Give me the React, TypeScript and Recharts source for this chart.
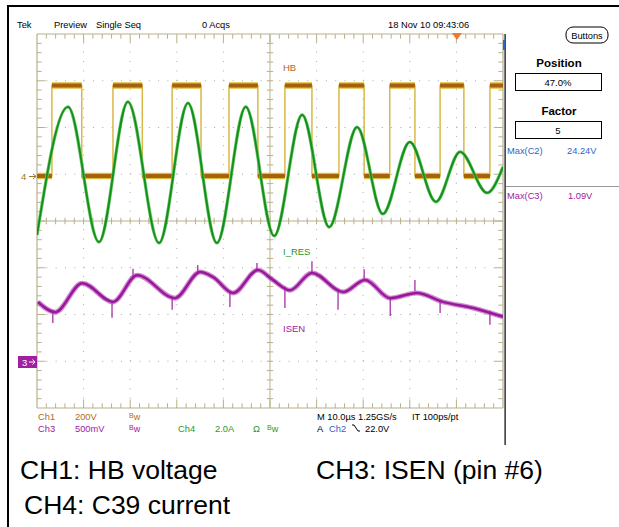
import React from 'react';
import { LineChart, Line, XAxis, YAxis, ReferenceLine, ReferenceDot } from 'recharts';

// Screen: 10 horizontal divisions (10 µs/div), 8 vertical divisions, centre = 0.
// CH1 (HB) square wave: switching edge times (div) and the two levels (div)
const hbEdgeTimes = [0.32, 0.96, 1.63, 2.26, 2.9, 3.52, 4.12, 4.74, 5.32, 5.9, 6.48, 7.02, 7.57, 8.11, 8.65, 9.16, 9.72];
const hbLow = 0.96;
const hbHigh = 2.9;

// CH4 (I_RES) resonant current: extrema
const iresTimes = [0, 0.665, 1.33, 1.95, 2.62, 3.24, 3.86, 4.48, 5.09, 5.69, 6.27, 6.87, 7.42, 8.0, 8.56, 9.08, 9.66, 10];
const iresValues = [-0.3, 2.44, -0.45, 2.55, -0.47, 2.52, -0.47, 2.44, -0.32, 2.27, -0.13, 2.01, 0.15, 1.69, 0.41, 1.48, 0.6, 1.16];

// CH3 (ISEN)
const isenTimes = [0.02, 0.39, 0.97, 1.63, 2.15, 2.96, 3.5, 3.78, 4.21, 4.74, 5.06, 5.43, 5.9, 6.57, 7.04, 7.58, 8.15, 8.71, 9.36, 10];
const isenValues = [-1.73, -1.95, -1.33, -1.73, -1.16, -1.65, -1.09, -1.2, -1.54, -1.05, -1.26, -1.48, -1.11, -1.52, -1.26, -1.65, -1.54, -1.73, -1.86, -2.05];
// CH3 switching spikes
const isenSpikeTimes = [0.34, 1.61, 2.06, 2.9, 3.45, 4.14, 4.72, 5.32, 5.9, 6.46, 7.02, 7.58, 8.11, 8.65, 9.72];
const isenSpikeBase = [-1.9, -1.72, -1.2, -1.6, -1.12, -1.5, -1.08, -1.4, -1.12, -1.5, -1.25, -1.62, -1.5, -1.72, -1.92];
const isenSpikeTip = [-2.18, -2.07, -1.02, -1.9, -0.94, -1.84, -0.9, -1.86, -0.86, -1.9, -1.03, -2.03, -1.26, -1.97, -2.22];

const triggerTime = 9.01;

// ---- derived tables ----
type P = { t: number; v: number | null };
const hbEdgesData: P[] = (() => {
  const out: P[] = [{ t: 0, v: hbLow }];
  hbEdgeTimes.forEach((e, i) => {
    const before = i % 2 === 0 ? hbLow : hbHigh;
    const after = i % 2 === 0 ? hbHigh : hbLow;
    out.push({ t: e, v: before }, { t: e, v: after });
  });
  out.push({ t: 10, v: hbEdgeTimes.length % 2 === 0 ? hbLow : hbHigh });
  return out;
})();
const hbLevelData: P[] = (() => {
  const bounds = [0, ...hbEdgeTimes, 10];
  const out: P[] = [];
  for (let i = 0; i < bounds.length - 1; i++) {
    const lvl = i % 2 === 0 ? hbLow : hbHigh;
    out.push({ t: bounds[i], v: lvl }, { t: bounds[i + 1], v: lvl }, { t: bounds[i + 1], v: null });
  }
  return out;
})();
const iresData: P[] = iresTimes.map((t, i) => ({ t, v: iresValues[i] }));
const isenData: P[] = isenTimes.map((t, i) => ({ t, v: isenValues[i] }));
const spikeData: P[] = [];
isenSpikeTimes.forEach((t, i) => {
  spikeData.push({ t, v: isenSpikeBase[i] }, { t, v: isenSpikeTip[i] }, { t, v: null });
});

const GRID = '#b8b08c';
const DOT = '#a8a8a8';
const C1 = '#b06a22';
const C2 = '#2a64cc';
const C3 = '#a020a0';
const C4 = '#1f9a1f';

const minorX: number[] = [];
for (let i = 1; i < 50; i++) minorX.push(i / 5);
const minorY: number[] = [];
for (let i = -19; i < 20; i++) if (i !== 0) minorY.push(i / 5);
const minorYAll: number[] = [];
for (let i = -19; i < 20; i++) minorYAll.push(i / 5);
const divX = [1, 2, 3, 4, 6, 7, 8, 9];
const divY = [-3, -2, -1, 1, 2, 3];

const font = '"Liberation Sans", Arial, sans-serif';

const Bw = ({ x, y, color }: { x: number; y: number; color: string }) => (
  <text x={x} y={y} fill={color} fontFamily={font}>
    <tspan fontSize={7} dy={-2}>B</tspan>
    <tspan fontSize={9} dy={2}>w</tspan>
  </text>
);

export default function App() {
  const xt = (v: number) => 0.1 * (v === Math.round(v) ? 1.8 : 1);
  return (
    <div style={{ position: 'absolute', left: 0, top: 0, width: 619, height: 527, background: '#fff', overflow: 'hidden' }}>
      <div style={{ position: 'absolute', left: 0, top: 0 }}>
        <LineChart width={619} height={527} margin={{ top: 34, left: 37, right: 116, bottom: 119 }}>
          <XAxis dataKey="t" type="number" domain={[0, 10]} hide allowDataOverflow />
          <YAxis type="number" domain={[-4, 4]} hide allowDataOverflow />
          {divX.map((d) => (
            <ReferenceLine key={'gx' + d} x={d} stroke={DOT} strokeWidth={1} strokeDasharray="1 8.35" ifOverflow="visible" />
          ))}
          {divY.map((d) => (
            <ReferenceLine key={'gy' + d} y={d} stroke={DOT} strokeWidth={1} strokeDasharray="1 8.32" ifOverflow="visible" />
          ))}
          <ReferenceLine x={0} stroke={GRID} strokeWidth={1.2} ifOverflow="visible" />
          <ReferenceLine x={10} stroke={GRID} strokeWidth={1.2} ifOverflow="visible" />
          <ReferenceLine y={4} stroke={GRID} strokeWidth={1.2} ifOverflow="visible" />
          <ReferenceLine y={-4} stroke={GRID} strokeWidth={1.2} ifOverflow="visible" />
          <ReferenceLine x={5} stroke={GRID} strokeWidth={1} ifOverflow="visible" />
          <ReferenceLine y={0} stroke={GRID} strokeWidth={1} ifOverflow="visible" />
          {minorX.map((t) => (
            <ReferenceLine key={'cx' + t} segment={[{ x: t, y: -0.07 }, { x: t, y: 0.07 }]} stroke={GRID} ifOverflow="visible" />
          ))}
          {minorY.map((v) => (
            <ReferenceLine key={'cy' + v} segment={[{ x: 4.93, y: v }, { x: 5.07, y: v }]} stroke={GRID} ifOverflow="visible" />
          ))}
          {minorX.map((t) => (
            <ReferenceLine key={'tx' + t} segment={[{ x: t, y: 4 }, { x: t, y: 4 - xt(t) }]} stroke={GRID} ifOverflow="visible" />
          ))}
          {minorX.map((t) => (
            <ReferenceLine key={'bx' + t} segment={[{ x: t, y: -4 }, { x: t, y: -4 + xt(t) }]} stroke={GRID} ifOverflow="visible" />
          ))}
          {minorYAll.map((v) => (
            <ReferenceLine key={'ly' + v} segment={[{ x: 0, y: v }, { x: xt(v), y: v }]} stroke={GRID} ifOverflow="visible" />
          ))}
          {minorYAll.map((v) => (
            <ReferenceLine key={'ry' + v} segment={[{ x: 10, y: v }, { x: 10 - xt(v), y: v }]} stroke={GRID} ifOverflow="visible" />
          ))}
          <Line data={hbEdgesData} dataKey="v" type="linear" stroke="#d8b848" strokeWidth={1.5} dot={false} isAnimationActive={false} />
          <Line data={hbLevelData} dataKey="v" type="linear" stroke="#dcc23a" strokeWidth={6.5} dot={false} isAnimationActive={false} strokeLinecap="butt" />
          <Line data={hbLevelData} dataKey="v" type="linear" stroke="#a8600e" strokeWidth={4} dot={false} isAnimationActive={false} strokeLinecap="butt" />
          <Line data={spikeData} dataKey="v" type="linear" stroke={C3} strokeWidth={1.2} dot={false} isAnimationActive={false} />
          <Line data={isenData} dataKey="v" type="monotone" stroke="#b040b0" strokeWidth={5} strokeOpacity={0.6} dot={false} isAnimationActive={false} />
          <Line data={isenData} dataKey="v" type="monotone" stroke="#98189a" strokeWidth={2.5} dot={false} isAnimationActive={false} />
          <Line data={iresData} dataKey="v" type="monotone" stroke="#66c466" strokeWidth={3.2} dot={false} isAnimationActive={false} />
          <Line data={iresData} dataKey="v" type="monotone" stroke="#14901a" strokeWidth={1.8} dot={false} isAnimationActive={false} />
          <ReferenceDot
            x={triggerTime}
            y={4}
            ifOverflow="visible"
            shape={(p: any) => (
              <polygon points={`${p.cx - 5},${p.cy - 1} ${p.cx + 5},${p.cy - 1} ${p.cx},${p.cy + 6}`} fill="#f07828" />
            )}
          />
        </LineChart>
      </div>
      <svg width={619} height={527} style={{ position: 'absolute', left: 0, top: 0, pointerEvents: 'none' }} fontFamily={font}>
        {/* frame */}
        <rect x={7} y={5} width={2} height={522} fill="#000" />
        <rect x={7} y={5} width={612} height={2} fill="#000" />
        <rect x={504.5} y={34} width={1.2} height={411} fill="#000" />
        <rect x={503} y={40} width={2} height={10} fill="#2a64cc" />
        {/* header */}
        <g fontSize={9.3} fill="#000">
          <text x={17} y={28}>Tek</text>
          <text x={54} y={28}>Preview</text>
          <text x={96} y={28}>Single Seq</text>
          <text x={202} y={28}>0 Acqs</text>
          <text x={388} y={28}>18 Nov 10 09:43:06</text>
        </g>
        <rect x={566} y={27} width={42} height={16} rx={7} fill="#fff" stroke="#000" strokeWidth={1} />
        <text x={587} y={39} fontSize={9.3} textAnchor="middle">Buttons</text>
        {/* right panel */}
        <text x={559} y={67} fontSize={11.5} fontWeight="bold" textAnchor="middle">Position</text>
        <rect x={515.5} y={73.5} width={86} height={17} fill="#fff" stroke="#000" />
        <text x={558} y={86} fontSize={9.5} textAnchor="middle">47.0%</text>
        <text x={559} y={115} fontSize={11.5} fontWeight="bold" textAnchor="middle">Factor</text>
        <rect x={515.5} y={121.5} width={86} height={17} fill="#fff" stroke="#000" />
        <text x={558} y={134} fontSize={9.5} textAnchor="middle">5</text>
        <text x={507} y={154} fontSize={9.3} fill={C2}>Max(C2)</text>
        <text x={567} y={154} fontSize={9.3} fill={C2}>24.24V</text>
        <rect x={506} y={186} width={113} height={1} fill="#999" />
        <text x={507} y={199} fontSize={9.3} fill={C3}>Max(C3)</text>
        <text x={568} y={199} fontSize={9.3} fill={C3}>1.09V</text>
        {/* on-screen labels */}
        <text x={283} y={71} fontSize={9.5} fill={C1}>HB</text>
        <text x={283} y={255} fontSize={9.5} fill={C4}>I_RES</text>
        <text x={283} y={332} fontSize={9.5} fill={C3}>ISEN</text>
        {/* channel markers */}
        <text x={21} y={180} fontSize={9.5} fill="#9a7a2a">4</text>
        <path d="M29,176.5 H36 M33,174 L36,176.5 L33,179" stroke="#9a7a2a" strokeWidth={1} fill="none" />
        <rect x={18} y={356} width={19} height={12} fill={C3} />
        <text x={22} y={366} fontSize={9.5} fill="#fff">3</text>
        <path d="M29,362 H35 M32.5,359.5 L35,362 L32.5,364.5" stroke="#fff" strokeWidth={1} fill="none" />
        {/* bottom readouts */}
        <g fontSize={9.3}>
          <text x={38} y={420} fill={C1}>Ch1</text>
          <text x={75} y={420} fill={C1}>200V</text>
          <text x={38} y={432} fill={C3}>Ch3</text>
          <text x={75} y={432} fill={C3}>500mV</text>
          <text x={178} y={432} fill={C4}>Ch4</text>
          <text x={215} y={432} fill={C4}>2.0A</text>
          <text x={253} y={432} fill={C4}>Ω</text>
          <text x={317} y={420} fill="#000">M 10.0µs 1.25GS/s</text>
          <text x={412} y={420} fill="#000">IT 100ps/pt</text>
          <text x={317} y={432} fill="#000">A</text>
          <text x={329} y={432} fill={C2}>Ch2</text>
          <text x={365} y={432} fill="#000">22.0V</text>
        </g>
        <Bw x={129} y={420} color={C1} />
        <Bw x={129} y={432} color={C3} />
        <Bw x={267} y={432} color={C4} />
        <path d="M352,425 L354,425 L358,431 L360,431" stroke="#000" strokeWidth={1} fill="none" />
        {/* caption */}
        <g fontSize={26.5} fill="#000">
          <text x={20} y={479}>CH1: HB voltage</text>
          <text x={316} y={479}>CH3: ISEN (pin #6)</text>
          <text x={24} y={514}>CH4: C39 current</text>
        </g>
      </svg>
    </div>
  );
}
